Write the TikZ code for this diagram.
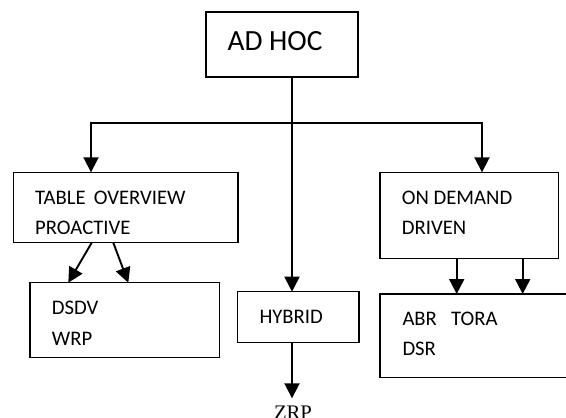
\documentclass[tikz,border=0pt]{standalone}
\usepackage{fontspec}
\setmainfont{Carlito}
\newfontfamily\zrpfont{Liberation Serif}
\usetikzlibrary{arrows.meta,calc}
\tikzset{
  box/.style={draw, line width=1.4pt, inner sep=0pt, outer sep=0pt, anchor=north west},
  lbl/.style={anchor=base west, inner sep=0pt, font=\fontsize{20.7}{30}\selectfont},
  big/.style={anchor=base west, inner sep=0pt, font=\fontsize{29.3}{35}\selectfont},
  conn/.style={line width=1.9pt},
  arr/.style={line width=1.9pt, -{Triangle[length=15pt,width=15pt]}},
}
\begin{document}
\begin{tikzpicture}[x=1pt,y=-1pt]
\useasboundingbox (0,0) rectangle (566,418);
% boxes
\node[box, minimum width=152pt, minimum height=65pt] (adhoc) at (206,12) {};
\node[box, minimum width=224.7pt, minimum height=70.4pt] (table) at (13.3,172.3) {};
\node[box, minimum width=189.3pt, minimum height=75pt] (dsdv) at (30,282.7) {};
\node[box, minimum width=121.3pt, minimum height=51pt] (hybrid) at (237.7,291.7) {};
\node[box, minimum width=178.3pt, minimum height=86pt] (ondemand) at (380,172.3) {};
\node[box, minimum width=200pt, minimum height=83.3pt] (abr) at (380,294) {};
% texts
\node[big] (tadhoc) at (227.4,50.7) {AD HOC};
\node[lbl] (ttable) at (35,204) {TABLE\, OVERVIEW};
\begin{scope}
\clip (0,150) rectangle (300,233.5);
\node[lbl] (tpro) at (35,234) {PROACTIVE};
\end{scope}
\node[lbl] (tdsdv) at (51.7,314) {DSDV};
\node[lbl] (twrp) at (51.7,345) {WRP};
\node[lbl] (thyb) at (259.3,323.3) {HYBRID};
\node[lbl] (ton) at (401.7,204) {ON DEMAND};
\node[lbl] (tdrv) at (401.7,234) {DRIVEN};
\node[lbl] (tabr) at (402.3,325) {ABR};
\node[lbl] (ttora) at (451,325) {TORA};
\node[lbl] (tdsr) at (402.3,355) {DSR};
\node[anchor=base, inner sep=0pt, font=\zrpfont\fontsize{20.7}{24}\selectfont] (zrp) at (293,419.5) {ZRP};
% junction coordinates
\coordinate (top) at (292,77);
\coordinate (jl) at (91,123);
\coordinate (jr) at (482,123);
\coordinate (jc) at (292,123);
\coordinate (tl) at (91,172.3);
\coordinate (tr) at (482,172.3);
\coordinate (th) at (292,291.7);
\coordinate (hb) at (292,342.7);
\coordinate (ze) at (292,398.3);
\coordinate (ta1) at (91.7,242.7);
\coordinate (ta2) at (113.3,242.7);
\coordinate (da1) at (68.3,282.7);
\coordinate (da2) at (128.3,282.7);
\coordinate (oa1) at (456.7,258.3);
\coordinate (oa2) at (522.7,258.3);
\coordinate (ab1) at (456.7,294);
\coordinate (ab2) at (522.7,294);
% connectors
\draw[conn] (jl) -- (jr);
\draw[arr] (top) -- (th);
\draw[arr] ($(jl)+(0,-1.5)$) -- (tl);
\draw[arr] ($(jr)+(0,-1)$) -- (tr);
\draw[arr] (hb) -- (ze);
\draw[arr] (ta1) -- (da1);
\draw[arr] (ta2) -- (da2);
\draw[arr] (oa1) -- (ab1);
\draw[arr] (oa2) -- (ab2);
\end{tikzpicture}
\end{document}
